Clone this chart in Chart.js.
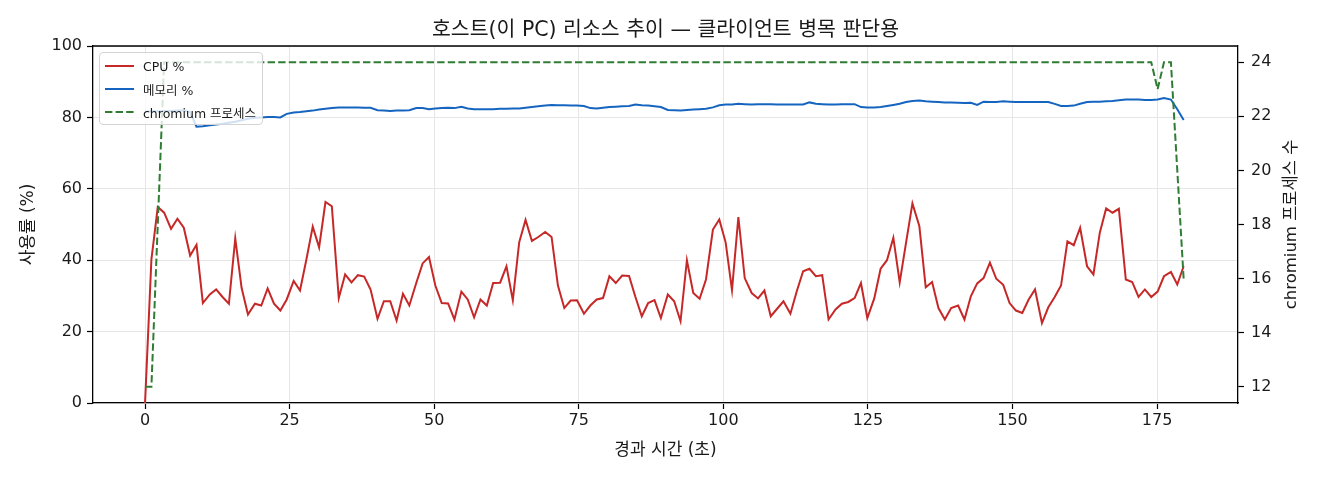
<!DOCTYPE html>
<html lang="ko">
<head>
<meta charset="utf-8">
<title>호스트(이 PC) 리소스 추이</title>
<script src="https://cdn.jsdelivr.net/npm/chart.js@4.4.1/dist/chart.umd.min.js"></script>
<style>
  html, body { margin: 0; padding: 0; background: #fff; }
  #wrap { position: relative; width: 1320px; height: 480px; }
  #legend {
    position: absolute; left: 99px; top: 52px; width: 162px; height: 71px;
    border: 1px solid #d4d4d4; border-radius: 4px; background: rgba(255,255,255,0.8);
    font: 12.5px 'DejaVu Sans', 'Noto Sans CJK KR', sans-serif; color: #1a1a1a;
  }
  #legend .row { position: absolute; left: 5px; height: 20px; display: flex; align-items: center; white-space: nowrap; }
  #legend svg { margin-right: 9px; }
</style>
</head>
<body>
<div id="wrap">
  <canvas id="chart" width="1320" height="480"></canvas>
  <div id="legend"></div>
</div>
<script>
  'use strict';

  const titleText = '호스트(이 PC) 리소스 추이 — 클라이언트 병목 판단용';
  const xTitle = '경과 시간 (초)';
  const yTitle = '사용률 (%)';
  const y1Title = 'chromium 프로세스 수';

  const xTicks = [0, 25, 50, 75, 100, 125, 150, 175];
  const yTicks = [0, 20, 40, 60, 80, 100];
  const y1Ticks = [12, 14, 16, 18, 20, 22, 24];

  // elapsed seconds of each sample
  const elapsed = [
    0.0, 1.1, 2.2, 3.3, 4.5, 5.6, 6.7, 7.8, 8.9, 10.0,
    11.2, 12.3, 13.4, 14.5, 15.6, 16.7, 17.8, 19.0, 20.1, 21.2,
    22.3, 23.4, 24.5, 25.7, 26.8, 27.9, 29.0, 30.1, 31.2, 32.3,
    33.5, 34.6, 35.7, 36.8, 37.9, 39.0, 40.2, 41.3, 42.4, 43.5,
    44.6, 45.7, 46.9, 48.0, 49.1, 50.2, 51.3, 52.4, 53.5, 54.7,
    55.8, 56.9, 58.0, 59.1, 60.2, 61.4, 62.5, 63.6, 64.7, 65.8,
    66.9, 68.0, 69.2, 70.3, 71.4, 72.5, 73.6, 74.7, 75.9, 77.0,
    78.1, 79.2, 80.3, 81.4, 82.5, 83.7, 84.8, 85.9, 87.0, 88.1,
    89.2, 90.4, 91.5, 92.6, 93.7, 94.8, 95.9, 97.0, 98.2, 99.3,
    100.4, 101.5, 102.6, 103.7, 104.9, 106.0, 107.1, 108.2, 109.3, 110.4,
    111.6, 112.7, 113.8, 114.9, 116.0, 117.1, 118.2, 119.4, 120.5, 121.6,
    122.7, 123.8, 124.9, 126.1, 127.2, 128.3, 129.4, 130.5, 131.6, 132.7,
    133.9, 135.0, 136.1, 137.2, 138.3, 139.4, 140.6, 141.7, 142.8, 143.9,
    145.0, 146.1, 147.2, 148.4, 149.5, 150.6, 151.7, 152.8, 153.9, 155.1,
    156.2, 157.3, 158.4, 159.5, 160.6, 161.7, 162.9, 164.0, 165.1, 166.2,
    167.3, 168.4, 169.6, 170.7, 171.8, 172.9, 174.0, 175.1, 176.2, 177.4,
    178.5, 179.6
  ];

  const cpuPct = [
    0, 40.2, 54.9, 53.3, 48.8, 51.6, 49.1, 41.3, 44.3, 28.0,
    30.4, 31.8, 29.7, 27.8, 46.1, 32.2, 24.8, 27.8, 27.3, 32.1,
    27.8, 25.9, 29.0, 34.2, 31.5, 40.2, 49.4, 43.6, 56.3, 55.1,
    29.4, 36.0, 33.8, 35.8, 35.4, 31.8, 23.6, 28.5, 28.5, 23.1,
    30.6, 27.3, 33.6, 39.1, 40.9, 32.9, 28.0, 27.9, 23.4, 31.2,
    29.0, 24.0, 29.0, 27.3, 33.6, 33.7, 38.3, 28.8, 45.0, 51.3,
    45.4, 46.5, 47.9, 46.5, 32.9, 26.6, 28.7, 28.8, 25.0, 27.3,
    29.0, 29.4, 35.5, 33.6, 35.7, 35.6, 29.7, 24.3, 28.0, 28.8,
    23.8, 30.4, 28.5, 22.9, 40.0, 30.8, 29.2, 34.6, 48.6, 51.4,
    45.0, 31.6, 52.1, 35.0, 30.8, 29.3, 31.5, 24.3, 26.4, 28.5,
    25.0, 31.3, 36.9, 37.6, 35.5, 35.8, 23.4, 26.2, 27.8, 28.3,
    29.4, 33.6, 23.8, 29.3, 37.6, 40.0, 46.3, 33.8, 44.9, 55.9,
    49.5, 32.4, 33.9, 26.6, 23.4, 26.6, 27.3, 23.4, 29.9, 33.5,
    35.0, 39.3, 34.8, 33.1, 28.0, 25.9, 25.2, 29.0, 31.8, 22.4,
    26.8, 29.7, 32.9, 45.3, 44.2, 49.1, 38.3, 36.0, 47.7, 54.5,
    53.3, 54.4, 34.6, 33.9, 29.7, 31.8, 29.7, 31.2, 35.5, 36.7,
    33.2, 38.3
  ];

  const memPct = [
    81.6, 81.7, 81.7, 81.8, 81.8, 81.9, 81.9, 81.5, 77.4, 77.5,
    77.8, 78.0, 78.2, 78.5, 78.8, 79.2, 79.6, 79.9, 80.0, 80.1,
    80.1, 80.0, 81.0, 81.4, 81.5, 81.7, 81.9, 82.2, 82.4, 82.6,
    82.8, 82.8, 82.8, 82.8, 82.7, 82.7, 82.0, 81.9, 81.8, 81.9,
    81.9, 82.0, 82.6, 82.6, 82.3, 82.5, 82.6, 82.7, 82.6, 83.0,
    82.5, 82.3, 82.3, 82.3, 82.3, 82.4, 82.4, 82.5, 82.5, 82.7,
    82.9, 83.1, 83.3, 83.5, 83.4, 83.4, 83.3, 83.3, 83.2, 82.6,
    82.5, 82.7, 82.9, 83.0, 83.1, 83.2, 83.6, 83.4, 83.3, 83.1,
    82.9, 82.1, 82.0, 81.9, 82.1, 82.2, 82.3, 82.4, 82.8, 83.4,
    83.6, 83.6, 83.8, 83.7, 83.6, 83.7, 83.7, 83.7, 83.6, 83.6,
    83.6, 83.6, 83.6, 84.2, 83.8, 83.7, 83.6, 83.6, 83.7, 83.7,
    83.7, 82.9, 82.8, 82.8, 82.9, 83.2, 83.5, 83.8, 84.3, 84.6,
    84.7, 84.5, 84.4, 84.3, 84.2, 84.2, 84.1, 84.0, 84.1, 83.5,
    84.4, 84.3, 84.3, 84.5, 84.4, 84.3, 84.3, 84.3, 84.3, 84.3,
    84.3, 83.8, 83.2, 83.2, 83.3, 83.8, 84.3, 84.4, 84.4, 84.5,
    84.6, 84.8, 85.0, 85.0, 85.0, 84.9, 84.9, 85.0, 85.4, 85.0,
    82.3, 79.3
  ];

  const chromiumProcs = [
    12, 12, 18, 24, 24, 24, 24, 24, 24, 24,
    24, 24, 24, 24, 24, 24, 24, 24, 24, 24,
    24, 24, 24, 24, 24, 24, 24, 24, 24, 24,
    24, 24, 24, 24, 24, 24, 24, 24, 24, 24,
    24, 24, 24, 24, 24, 24, 24, 24, 24, 24,
    24, 24, 24, 24, 24, 24, 24, 24, 24, 24,
    24, 24, 24, 24, 24, 24, 24, 24, 24, 24,
    24, 24, 24, 24, 24, 24, 24, 24, 24, 24,
    24, 24, 24, 24, 24, 24, 24, 24, 24, 24,
    24, 24, 24, 24, 24, 24, 24, 24, 24, 24,
    24, 24, 24, 24, 24, 24, 24, 24, 24, 24,
    24, 24, 24, 24, 24, 24, 24, 24, 24, 24,
    24, 24, 24, 24, 24, 24, 24, 24, 24, 24,
    24, 24, 24, 24, 24, 24, 24, 24, 24, 24,
    24, 24, 24, 24, 24, 24, 24, 24, 24, 24,
    24, 24, 24, 24, 24, 24, 24, 23, 24, 24,
    20, 16
  ];

  const FONT = "'DejaVu Sans', 'Noto Sans CJK KR', sans-serif";
  const INK = '#1a1a1a';
  const GRID = '#e6e6e6';

  function toPoints(ys) {
    return elapsed.map((t, i) => ({ x: t, y: ys[i] }));
  }

  function fixedTicks(values) {
    return (scale) => { scale.ticks = values.map((v) => ({ value: v })); };
  }

  // top spine + right-hand axis title (reads bottom to top)
  const framePlugin = {
    id: 'frame',
    afterDraw(chart) {
      const { ctx, chartArea: a } = chart;
      ctx.save();
      ctx.strokeStyle = '#000';
      ctx.lineWidth = 1.3;
      ctx.beginPath();
      ctx.moveTo(a.left, a.top);
      ctx.lineTo(a.right, a.top);
      ctx.stroke();
      ctx.translate(1292, (a.top + a.bottom) / 2);
      ctx.rotate(-Math.PI / 2);
      ctx.font = `16.5px ${FONT}`;
      ctx.fillStyle = INK;
      ctx.textAlign = 'center';
      ctx.textBaseline = 'middle';
      ctx.fillText(y1Title, 0, 0);
      ctx.restore();
    },
  };

  Chart.defaults.font.family = FONT;
  Chart.defaults.color = INK;

  const tickOpts = { color: INK, font: { size: 16 }, padding: 5 };

  const chart = new Chart(document.getElementById('chart'), {
    type: 'line',
    data: {
      datasets: [
        { label: 'CPU %', data: toPoints(cpuPct), yAxisID: 'y', borderColor: '#c62828', borderWidth: 2, pointRadius: 0, tension: 0, order: 1 },
        { label: '메모리 %', data: toPoints(memPct), yAxisID: 'y', borderColor: '#1565c0', borderWidth: 2, pointRadius: 0, tension: 0, order: 2 },
        { label: 'chromium 프로세스', data: toPoints(chromiumProcs), yAxisID: 'y1', borderColor: '#2e7d32', borderWidth: 2, borderDash: [7.4, 3.2], pointRadius: 0, tension: 0, order: 0 },
      ],
    },
    options: {
      responsive: false,
      devicePixelRatio: 1,
      animation: false,
      events: [],
      layout: { padding: 0 },
      plugins: {
        legend: { display: false },
        tooltip: { enabled: false },
        title: {
          display: true, text: titleText, fullSize: false, color: INK,
          font: { size: 20.5, weight: 'normal' }, padding: { top: 18, bottom: 3.4 },
        },
      },
      scales: {
        x: {
          type: 'linear', position: 'bottom', min: -9, max: 189,
          afterBuildTicks: fixedTicks(xTicks),
          afterFit: (s) => { s.height = 77; },
          ticks: { ...tickOpts, padding: 2, callback: (v) => String(v) },
          grid: { color: GRID, lineWidth: 1, tickColor: '#000', tickLength: 6, tickWidth: 1.2 },
          border: { color: '#000', width: 1.3 },
          title: { display: true, text: xTitle, color: INK, font: { size: 17 }, padding: { top: 4, bottom: 19 } },
        },
        y: {
          type: 'linear', position: 'left', min: 0, max: 100,
          afterBuildTicks: fixedTicks(yTicks),
          afterFit: (s) => { s.width = 93; },
          ticks: tickOpts,
          grid: { color: GRID, lineWidth: 1, tickColor: '#000', tickLength: 6, tickWidth: 1.2 },
          border: { color: '#000', width: 1.3 },
          title: { display: true, text: yTitle, color: INK, font: { size: 17 }, padding: { top: 18, bottom: 0 } },
        },
        y1: {
          type: 'linear', position: 'right', min: 11.4, max: 24.6,
          afterBuildTicks: fixedTicks(y1Ticks),
          afterFit: (s) => { s.width = 82; },
          ticks: { ...tickOpts, padding: 7 },
          grid: { drawOnChartArea: false, tickColor: '#000', tickLength: 6, tickWidth: 1.2 },
          border: { color: '#000', width: 1.3 },
        },
      },
    },
    plugins: [framePlugin],
  });

  // legend inside the plot, upper left
  const legend = document.getElementById('legend');
  chart.data.datasets.forEach((ds, i) => {
    const row = document.createElement('div');
    row.className = 'row';
    row.style.top = `${3 + i * 23}px`;
    const dash = ds.borderDash ? `stroke-dasharray="${ds.borderDash.join(' ')}"` : '';
    row.innerHTML = `<svg width="29" height="4"><line x1="0" y1="2" x2="29" y2="2" stroke="${ds.borderColor}" stroke-width="2" ${dash}/></svg><span>${ds.label}</span>`;
    legend.appendChild(row);
  });
</script>
</body>
</html>
